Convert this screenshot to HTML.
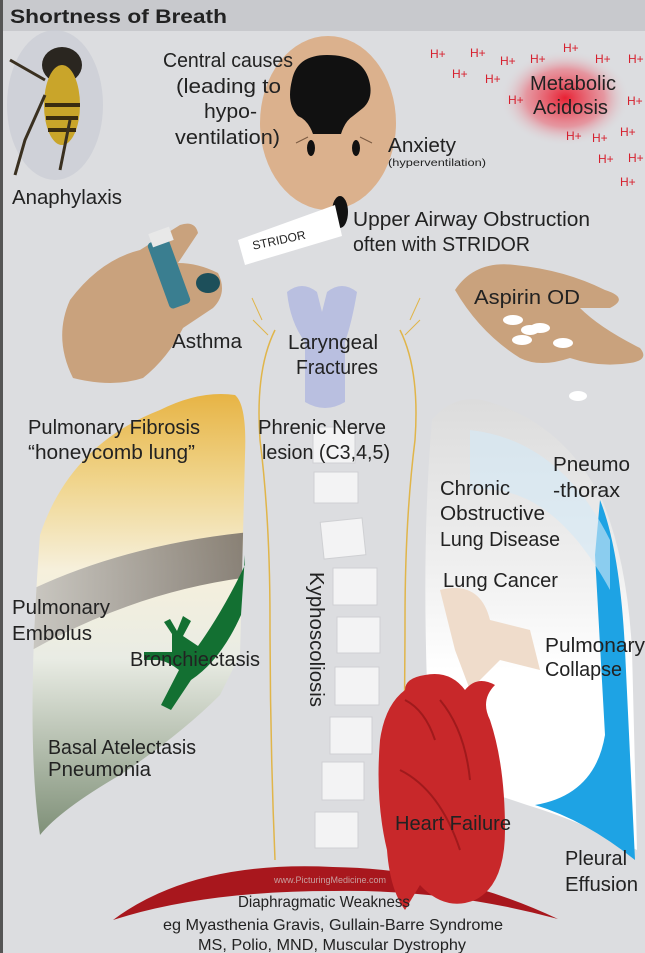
<!DOCTYPE html>
<html><head><meta charset="utf-8"><style>
html,body{margin:0;padding:0;}
body{width:645px;height:953px;overflow:hidden;background:#dcdde0;font-family:"Liberation Sans",sans-serif;}
svg{display:block}
text{font-family:"Liberation Sans",sans-serif;fill:#222;}
text.h{fill:#d6202e;font-size:12px;}
</style></head><body>
<svg width="645" height="953" viewBox="0 0 645 953">
<defs>
<linearGradient id="ll" x1="0" y1="0" x2="0" y2="1">
<stop offset="0" stop-color="#e7b445"/><stop offset="0.2" stop-color="#f0d58d"/><stop offset="0.4" stop-color="#f6f0dc"/><stop offset="0.6" stop-color="#e9ece4"/><stop offset="1" stop-color="#7f9078"/></linearGradient>
<linearGradient id="rl" x1="0" y1="0" x2="0" y2="1">
<stop offset="0" stop-color="#dcdcdc"/><stop offset="0.35" stop-color="#eeeeee"/><stop offset="0.6" stop-color="#ffffff"/><stop offset="1" stop-color="#ffffff"/></linearGradient>
<radialGradient id="red" cx="0.5" cy="0.5" r="0.5"><stop offset="0" stop-color="#e8172a" stop-opacity="0.95"/><stop offset="0.6" stop-color="#ee5060" stop-opacity="0.5"/><stop offset="1" stop-color="#dcdde0" stop-opacity="0"/></radialGradient>
<linearGradient id="gray" x1="0" y1="0" x2="1" y2="0"><stop offset="0" stop-color="#c9c7c2"/><stop offset="1" stop-color="#7b736a"/></linearGradient>
<clipPath id="lc"><path d="M235 395 q12 10 10 60 l-5 200 q-10 20-20 40 q-40 40-100 80 q-60 35-80 60 q-15-100 0-300 q30-90 120-125 q40-20 75-15z"/></clipPath>
</defs>
<rect x="0" y="0" width="645" height="31" fill="#c8c9cd"/>
<rect x="0" y="0" width="3" height="953" fill="#555"/>
<text x="10" y="23" font-size="19" font-weight="bold" fill="#1a1a1a" textLength="217" lengthAdjust="spacingAndGlyphs">Shortness of Breath</text>

<!-- bee -->
<ellipse cx="55" cy="105" rx="48" ry="75" fill="#c9ccd4" opacity="0.7"/>
<ellipse cx="62" cy="65" rx="20" ry="18" fill="#2a2620"/>
<ellipse cx="62" cy="105" rx="18" ry="40" fill="#c9a52a"/>
<path d="M45 105 l35 0 M46 118 l32 0 M48 130 l28 0" stroke="#3a2c10" stroke-width="4"/>
<path d="M45 80 L10 60 M45 95 L25 140 L15 175 M70 120 L60 170" stroke="#3a3020" stroke-width="3" fill="none"/>
<text x="12" y="204" font-size="20" textLength="110" lengthAdjust="spacingAndGlyphs">Anaphylaxis</text>

<!-- head -->
<ellipse cx="328" cy="123" rx="68" ry="87" fill="#dbb18d"/>
<path d="M292 80 q5-25 35-25 q35 0 42 25 q5 18-6 28 l-10 8 q-8 5-12 18 l-28 0 q-5-14-15-18 q-12-12-6-36z" fill="#111"/>
<ellipse cx="311" cy="148" rx="4" ry="8" fill="#111"/>
<ellipse cx="356" cy="148" rx="4" ry="8" fill="#111"/>
<path d="M296 143 l12-6 M372 143 l-12-6" stroke="#7a5a40" stroke-width="1"/>
<ellipse cx="340" cy="212" rx="8" ry="16" fill="#111"/>
<text x="163" y="67" font-size="20" textLength="130" lengthAdjust="spacingAndGlyphs">Central causes</text>
<text x="176" y="93" font-size="20" textLength="105" lengthAdjust="spacingAndGlyphs">(leading to</text>
<text x="204" y="118" font-size="20" textLength="53" lengthAdjust="spacingAndGlyphs">hypo-</text>
<text x="175" y="144" font-size="20" textLength="105" lengthAdjust="spacingAndGlyphs">ventilation)</text>
<text x="388" y="152" font-size="20" textLength="68" lengthAdjust="spacingAndGlyphs">Anxiety</text>
<text x="388" y="166" font-size="10" textLength="98" lengthAdjust="spacingAndGlyphs">(hyperventilation)</text>

<!-- stridor strip -->
<polygon points="238,240 335,205 342,236 245,265" fill="#fff"/>
<text x="252" y="243" font-size="12" transform="rotate(-12 285 240)" fill="#222">STRIDOR</text>
<text x="353" y="226" font-size="20" textLength="237" lengthAdjust="spacingAndGlyphs">Upper Airway Obstruction</text>
<text x="353" y="251" font-size="20" textLength="177" lengthAdjust="spacingAndGlyphs">often with STRIDOR</text>

<!-- metabolic acidosis -->
<ellipse cx="565" cy="98" rx="65" ry="48" fill="url(#red)"/>
<text class="h" x="430" y="58">H+</text><text class="h" x="470" y="57">H+</text><text class="h" x="500" y="65">H+</text><text class="h" x="530" y="63">H+</text><text class="h" x="563" y="52">H+</text><text class="h" x="595" y="63">H+</text><text class="h" x="628" y="63">H+</text>
<text class="h" x="452" y="78">H+</text><text class="h" x="485" y="83">H+</text><text class="h" x="508" y="104">H+</text><text class="h" x="627" y="105">H+</text>
<text class="h" x="566" y="140">H+</text><text class="h" x="592" y="142">H+</text><text class="h" x="620" y="136">H+</text><text class="h" x="598" y="163">H+</text><text class="h" x="628" y="162">H+</text><text class="h" x="620" y="186">H+</text>
<text x="530" y="90" font-size="20" textLength="86" lengthAdjust="spacingAndGlyphs">Metabolic</text>
<text x="533" y="114" font-size="20" textLength="75" lengthAdjust="spacingAndGlyphs">Acidosis</text>

<!-- left hand + inhaler -->
<path d="M70 300 q30-40 70-50 l40-25 q15-5 18 8 l-20 30 q20 0 40 10 q10 20-5 35 l-30 20 q-15 30-40 50 q-30 10-70 0 q-20-40-3-78z" fill="#c9a27d"/>
<rect x="158" y="238" width="22" height="70" rx="4" fill="#3a7e90" transform="rotate(-20 169 273)"/>
<rect x="150" y="230" width="22" height="14" fill="#e8e8e8" transform="rotate(-20 161 237)"/>
<ellipse cx="208" cy="283" rx="12" ry="10" fill="#1d4f5a"/>
<text x="172" y="348" font-size="20" textLength="70" lengthAdjust="spacingAndGlyphs">Asthma</text>

<!-- right hand aspirin -->
<path d="M455 290 q20-30 60-25 q50 5 90 25 q25 8 5 18 l-30 0 q20 20 60 40 q10 12-10 15 q-30 5-60-5 q-30 10-50 0 q-40-25-65-68z" fill="#c9a27d"/>
<ellipse cx="513" cy="320" rx="10" ry="5" fill="#fff"/><ellipse cx="540" cy="328" rx="10" ry="5" fill="#fff"/>
<ellipse cx="522" cy="340" rx="10" ry="5" fill="#fff"/><ellipse cx="563" cy="343" rx="10" ry="5" fill="#fff"/><ellipse cx="530" cy="330" rx="9" ry="5" fill="#fff"/>
<ellipse cx="578" cy="396" rx="9" ry="5" fill="#fff"/>
<text x="474" y="304" font-size="20" textLength="106" lengthAdjust="spacingAndGlyphs">Aspirin OD</text>

<!-- larynx -->
<path d="M287 292 q15-12 30 0 l5 20 l5-20 q15-12 30 0 q-5 30-12 50 l0 60 q-20 12-40 0 l0-60 q-15-20-18-50z" fill="#b9bfe0"/>
<text x="288" y="349" font-size="20" textLength="90" lengthAdjust="spacingAndGlyphs">Laryngeal</text>
<text x="296" y="374" font-size="20" textLength="82" lengthAdjust="spacingAndGlyphs">Fractures</text>
<!-- nerves -->
<path d="M275 330 q-20 40-15 110 q10 80 10 180 q0 120 5 240" stroke="#e0b54a" stroke-width="1.5" fill="none"/>
<path d="M400 330 q20 40 15 110 q-10 80-10 180 q0 120-4 240" stroke="#e0b54a" stroke-width="1.5" fill="none"/>
<path d="M262 320 l-10-22 M268 335 l-15-15 M410 320 l10-22 M405 335 l15-15" stroke="#e0b54a" stroke-width="1"/>

<!-- left lung -->
<path d="M235 395 q12 10 10 60 l-5 200 q-10 20-20 40 q-40 40-100 80 q-60 35-80 60 q-15-100 0-300 q30-90 120-125 q40-20 75-15z" fill="url(#ll)"/>
<g clip-path="url(#lc)">
<path d="M20 595 q100-50 230-63 l0 45 q-120 15-230 80z" fill="url(#gray)" opacity="0.9"/>
</g>
<path d="M245 555 l-4 60 q-20 45-50 65 l-20 30 l-10-5 l18-35 q-10-8-20-10 l-15 0 l0-8 l28 0 l0-18 l-8-12 l6-3 l7 12 l6-15 l8 5 l-8 15 l15 10 q25-35 47-81z" fill="#137032"/>
<text x="28" y="434" font-size="20" textLength="172" lengthAdjust="spacingAndGlyphs">Pulmonary Fibrosis</text>
<text x="28" y="459" font-size="20" textLength="167" lengthAdjust="spacingAndGlyphs">“honeycomb lung”</text>
<text x="12" y="614" font-size="20" textLength="98" lengthAdjust="spacingAndGlyphs">Pulmonary</text>
<text x="12" y="640" font-size="20" textLength="80" lengthAdjust="spacingAndGlyphs">Embolus</text>
<text x="130" y="666" font-size="20" textLength="130" lengthAdjust="spacingAndGlyphs">Bronchiectasis</text>
<text x="48" y="754" font-size="20" textLength="148" lengthAdjust="spacingAndGlyphs">Basal Atelectasis</text>
<text x="48" y="776" font-size="20" textLength="103" lengthAdjust="spacingAndGlyphs">Pneumonia</text>

<!-- right lung -->
<path d="M432 420 q20-25 50-20 q80 20 120 100 q25 60 30 150 l5 200 q-60-30-110-45 l-60-20 q-40-20-40-100 q-5-150 5-265z" fill="url(#rl)"/>
<path d="M600 500 q20 50 25 150 l10 210 q-50-40-100-55 q60-10 70-70 l-10-180z" fill="#1ea3e4"/>
<path d="M470 430 q90 10 140 110 l0 50 q-60-110-140-100z" fill="#d4e9f6" opacity="0.6"/>
<path d="M440 590 q40-10 50 30 l40 10 l10 40 l-40-10 l-30 30 l-15-40 z" fill="#efdccb"/>
<text x="553" y="471" font-size="20" textLength="77" lengthAdjust="spacingAndGlyphs">Pneumo</text>
<text x="553" y="497" font-size="20" textLength="67" lengthAdjust="spacingAndGlyphs">-thorax</text>
<text x="440" y="495" font-size="20" textLength="70" lengthAdjust="spacingAndGlyphs">Chronic</text>
<text x="440" y="520" font-size="20" textLength="105" lengthAdjust="spacingAndGlyphs">Obstructive</text>
<text x="440" y="546" font-size="20" textLength="120" lengthAdjust="spacingAndGlyphs">Lung Disease</text>
<text x="443" y="587" font-size="20" textLength="115" lengthAdjust="spacingAndGlyphs">Lung Cancer</text>
<text x="545" y="652" font-size="20" textLength="100" lengthAdjust="spacingAndGlyphs">Pulmonary</text>
<text x="545" y="676" font-size="20" textLength="77" lengthAdjust="spacingAndGlyphs">Collapse</text>
<text x="565" y="865" font-size="20" textLength="62" lengthAdjust="spacingAndGlyphs">Pleural</text>
<text x="565" y="891" font-size="20" textLength="73" lengthAdjust="spacingAndGlyphs">Effusion</text>

<!-- spine -->
<g fill="#f3f3f4" stroke="#cfd0d3">
<rect x="313" y="427" width="42" height="36"/>
<rect x="314" y="472" width="44" height="31"/>
<rect x="322" y="520" width="42" height="37" transform="rotate(-6 343 538)"/>
<rect x="333" y="568" width="44" height="37"/>
<rect x="337" y="617" width="43" height="36"/>
<rect x="335" y="667" width="44" height="38"/>
<rect x="330" y="717" width="42" height="37"/>
<rect x="322" y="762" width="42" height="38"/>
<rect x="315" y="812" width="43" height="36"/>
</g>
<text x="0" y="0" font-size="20" transform="translate(310 572) rotate(90)" textLength="135" lengthAdjust="spacingAndGlyphs">Kyphoscoliosis</text>
<text x="258" y="434" font-size="20" textLength="128" lengthAdjust="spacingAndGlyphs">Phrenic Nerve</text>
<text x="262" y="459" font-size="20" textLength="128" lengthAdjust="spacingAndGlyphs">lesion (C3,4,5)</text>

<!-- diaphragm -->
<path d="M113 920 q80-60 220-53 q120 2 225 52 q-110-30-225-28 q-130 0-220 29z" fill="#a8171d"/>
<text x="330" y="883" font-size="9" text-anchor="middle" style="fill:#c8a0a0">www.PicturingMedicine.com</text>

<!-- heart -->
<path d="M380 740 q5-35 25-50 q0-12 20-15 q25-5 40 15 q12-15 30-5 q-15 15-5 35 q15 45 15 110 q0 55-30 70 q-30 12-55-15 l-15 25 q-15-20-18-60 q-12-50-7-110z" fill="#c8282a"/>
<path d="M405 700 q20 10 30 40 M440 700 q25 30 30 80 M400 770 q40 20 60 80" stroke="#a01a1c" stroke-width="2" fill="none"/>
<text x="395" y="830" font-size="20" textLength="116" lengthAdjust="spacingAndGlyphs">Heart Failure</text>

<text x="238" y="907" font-size="16" textLength="172" lengthAdjust="spacingAndGlyphs">Diaphragmatic Weakness</text>
<text x="163" y="930" font-size="16" textLength="340" lengthAdjust="spacingAndGlyphs">eg Myasthenia Gravis, Gullain-Barre Syndrome</text>
<text x="198" y="950" font-size="16" textLength="268" lengthAdjust="spacingAndGlyphs">MS, Polio, MND, Muscular Dystrophy</text>
</svg>
</body></html>
